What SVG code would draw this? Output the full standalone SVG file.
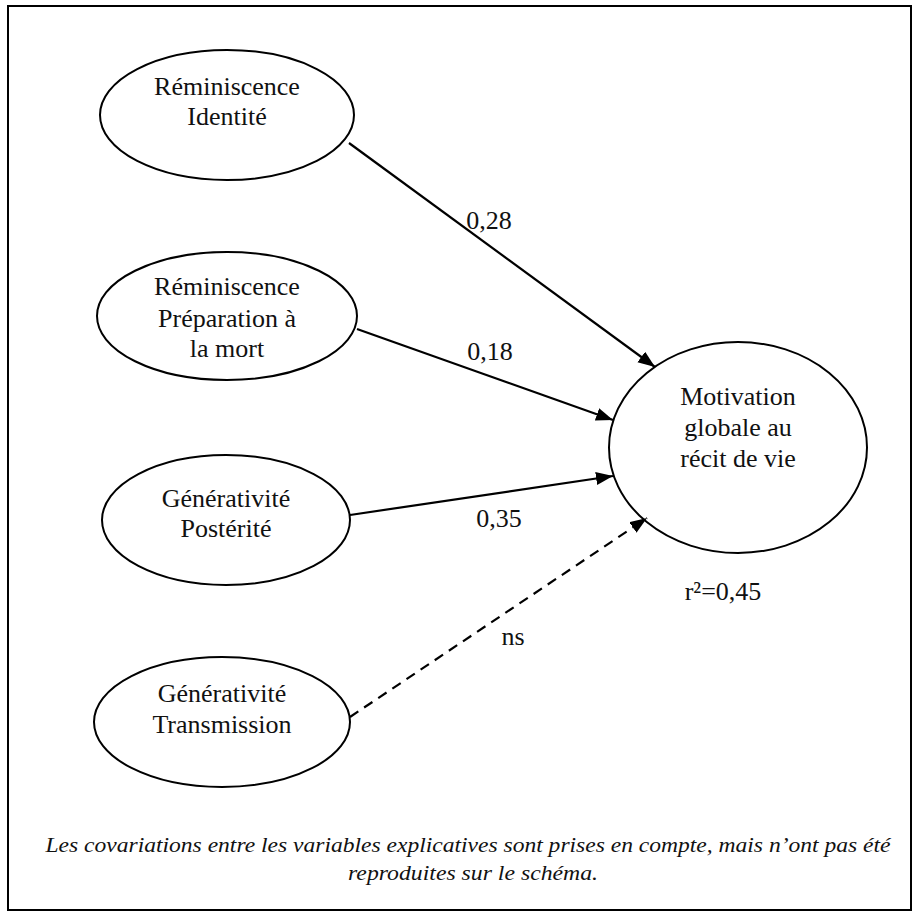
<svg xmlns="http://www.w3.org/2000/svg" width="917" height="917" viewBox="0 0 917 917">
<style>
.node{fill:#fff;stroke:#000;stroke-width:2}
.lbl{font-family:"Liberation Serif","Times New Roman",serif;font-size:26px;fill:#111;text-anchor:middle}
.edge{stroke:#000;stroke-width:2.2;fill:none}
.dash{stroke-dasharray:10 7}
.note{font-family:"Liberation Serif","Times New Roman",serif;font-style:italic;font-size:22px;fill:#111;text-anchor:middle}
</style>
<defs>
<marker id="arr" markerUnits="userSpaceOnUse" markerWidth="18" markerHeight="14" refX="17" refY="6.5" orient="auto">
<path d="M0,0 L17,6.5 L0,13 z" fill="#000"/>
</marker>
</defs>
<rect x="8" y="6" width="903" height="904" fill="#fff" stroke="#000" stroke-width="2"/>
<g id="n1"><ellipse class="node" cx="227" cy="115" rx="127" ry="65"/>
<text class="lbl" x="227" y="95">Réminiscence</text><text class="lbl" x="227" y="125">Identité</text></g>
<g id="n2"><ellipse class="node" cx="227" cy="316" rx="130" ry="64"/>
<text class="lbl" x="227" y="295">Réminiscence</text><text class="lbl" x="227" y="327">Préparation à</text><text class="lbl" x="227" y="357">la mort</text></g>
<g id="n3"><ellipse class="node" cx="226" cy="520" rx="124" ry="65"/>
<text class="lbl" x="226" y="507">Générativité</text><text class="lbl" x="226" y="537">Postérité</text></g>
<g id="n4"><ellipse class="node" cx="222" cy="722" rx="128" ry="65"/>
<text class="lbl" x="222" y="702">Générativité</text><text class="lbl" x="222" y="733">Transmission</text></g>
<g id="target"><ellipse class="node" cx="738" cy="447.5" rx="129" ry="105.5"/>
<text class="lbl" x="738" y="405">Motivation</text><text class="lbl" x="738" y="436">globale au</text><text class="lbl" x="738" y="467">récit de vie</text></g>
<g id="connectors">
<line class="edge" x1="349" y1="143" x2="655" y2="367" marker-end="url(#arr)"/>
<line class="edge" x1="357" y1="329" x2="613" y2="420" marker-end="url(#arr)"/>
<line class="edge" x1="350" y1="515" x2="613" y2="476" marker-end="url(#arr)"/>
<line class="edge dash" x1="350" y1="717" x2="647" y2="518" marker-end="url(#arr)"/>
</g>
<g id="labels">
<text class="lbl" x="489" y="229">0,28</text>
<text class="lbl" x="490" y="360">0,18</text>
<text class="lbl" x="499" y="527">0,35</text>
<text class="lbl" x="513" y="645">ns</text>
<text class="lbl" x="723" y="600">r²=0,45</text>
</g>
<text class="note" x="468" y="852" textLength="845" lengthAdjust="spacingAndGlyphs">Les covariations entre les variables explicatives sont prises en compte, mais n’ont pas été</text>
<text class="note" x="473" y="880" textLength="250" lengthAdjust="spacingAndGlyphs">reproduites sur le schéma.</text>
</svg>
